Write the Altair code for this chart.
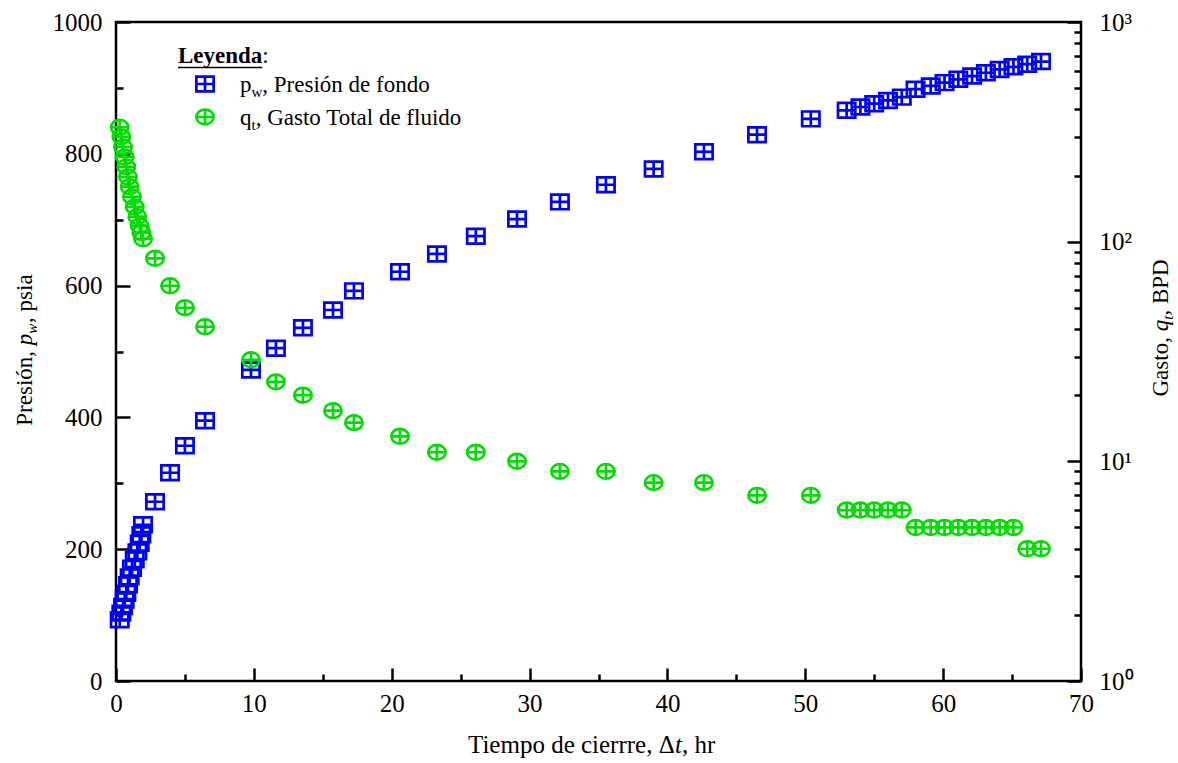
import altair as alt
import pandas as pd

# ---------------- data ----------------
t_hr = [0.27, 0.39, 0.51, 0.63, 0.75, 0.87, 0.99, 1.16, 1.36, 1.55, 1.72, 1.84, 1.96,
        2.83, 3.92, 5.0, 6.46, 9.79, 11.6, 13.56, 15.74, 17.26, 20.6, 23.28, 26.1,
        29.09, 32.2, 35.54, 39.0, 42.65, 46.5, 50.4,
        53.0, 54.0, 55.0, 56.0, 57.0, 58.0, 59.1, 60.1, 61.1, 62.1, 63.1, 64.1,
        65.1, 66.1, 67.1]
p_psia = [93, 103, 113, 123, 133, 146, 158, 171, 184, 196, 209, 222, 237,
          272, 316, 357, 395, 472, 505, 536, 563, 592, 621, 648, 675,
          701, 727, 753, 777, 803, 829, 853,
          866, 871, 876, 881, 886, 898, 903, 908, 913, 918, 923, 928,
          932, 936, 940]
q_bpd = [332, 300, 270, 243, 219, 197, 178, 160, 144, 130, 118, 110, 103,
         84, 63, 50, 41, 29, 23, 20, 17, 15, 13, 11, 11,
         10, 9, 9, 8, 8, 7, 7,
         6, 6, 6, 6, 6, 5, 5, 5, 5, 5, 5, 5,
         5, 4, 4]

x_major = [0, 10, 20, 30, 40, 50, 60, 70]
x_minor = [5, 15, 25, 35, 45, 55, 65]
y_major = [0, 200, 400, 600, 800, 1000]
y_minor = [100, 300, 500, 700, 900]
r_major = [1, 10, 100, 1000]
r_minor = [2, 3, 4, 5, 6, 7, 8, 9, 20, 30, 40, 50, 60, 70, 80, 90,
           200, 300, 400, 500, 600, 700, 800, 900]

df = pd.DataFrame({"t": t_hr, "p": p_psia, "q": q_bpd})
one = pd.DataFrame({"k": [0]})

FONT = "Liberation Serif"
BLUE = "#0000ff"
GREEN = "#00dd00"
SQ = "M-1,-0.85H1V0.85H-1Z M0,-0.85V0.85 M-1,0H1"
CI = "M-1,0A1,0.85,0,1,1,1,0A1,0.85,0,1,1,-1,0Z M0,-0.85V0.85 M-1,0H1"

xs = alt.Scale(domain=[0, 70], nice=False, zero=False)
ys = alt.Scale(domain=[0, 1000], nice=False)
rs = alt.Scale(type="log", domain=[1, 1000], nice=False)

common = dict(grid=False, domain=False, title=None, tickColor="black", tickWidth=2.5,
              labelFont=FONT, labelFontSize=25, labelColor="black",
              labelFlush=False, labelOverlap=False)

ax_x_major = alt.Axis(orient="bottom", values=x_major, tickSize=13, offset=-13,
                      labelPadding=10, format="d", **common)
ax_x_minor = alt.Axis(orient="bottom", values=x_minor, tickSize=7, offset=-7,
                      labels=False, **common)
ax_y_major = alt.Axis(orient="left", values=y_major, tickSize=14, offset=-14,
                      labelPadding=14, format="d", **common)
ax_y_minor = alt.Axis(orient="left", values=y_minor, tickSize=7, offset=-7,
                      labels=False, **common)
ax_r_major = alt.Axis(orient="right", values=r_major, tickSize=14, offset=-14,
                      labelPadding=18,
                      labelExpr="'10' + ['⁰','¹','²','³'][round(log(datum.value)/LN10)]",
                      **common)
ax_r_minor = alt.Axis(orient="right", values=r_minor, tickSize=7, offset=-7,
                      labels=False, **common)

pres = alt.Chart(df).mark_point(shape=SQ, size=300, filled=False, strokeWidth=2.7,
                                color=BLUE, opacity=1).encode(
    x=alt.X("t:Q", scale=xs, axis=ax_x_major),
    y=alt.Y("p:Q", scale=ys, axis=ax_y_major),
)
minor_lp = alt.Chart(df).mark_point(opacity=0).encode(
    x=alt.X("t:Q", scale=xs, axis=ax_x_minor),
    y=alt.Y("p:Q", scale=ys, axis=ax_y_minor),
)
rate = alt.Chart(df).mark_point(shape=CI, size=300, filled=False, strokeWidth=2.7,
                                color=GREEN, opacity=1).encode(
    x=alt.X("t:Q", scale=xs, axis=None),
    y=alt.Y("q:Q", scale=rs, axis=ax_r_major),
)
minor_r = alt.Chart(df).mark_point(opacity=0).encode(
    x=alt.X("t:Q", scale=xs, axis=None),
    y=alt.Y("q:Q", scale=rs, axis=ax_r_minor),
)


def txt(s, x, y, size, angle=0, style="normal", weight="normal"):
    return alt.Chart(one).mark_text(
        text=s, font=FONT, fontSize=size, fontStyle=style, fontWeight=weight,
        angle=angle, align="left", baseline="alphabetic", color="black",
    ).encode(x=alt.value(x), y=alt.value(y))


texts = [
    # x-axis title
    txt("Tiempo de cierrre, Δ", 352.0, 731, 25),
    txt("t", 559.0, 731, 25, style="italic"),
    txt(", hr", 566.0, 731, 25),
    # left title (rotated)
    txt("Presión, ", -84, 403.7, 23, angle=270),
    txt("p", -84, 323.2, 23, angle=270, style="italic"),
    txt("w", -79, 311.7, 15, angle=270, style="italic"),
    txt(", psia", -84, 300.9, 23, angle=270),
    # right title (rotated)
    txt("Gasto, ", 1052, 374.5, 23, angle=270),
    txt("q", 1052, 309.3, 23, angle=270, style="italic"),
    txt("t", 1057, 297.8, 15, angle=270, style="italic"),
    txt(", BPD", 1052, 293.6, 23, angle=270),
    # legend
    txt("Leyenda", 62, 41, 23, weight="bold"),
    txt(":", 146.3, 41, 23),
    txt("p", 124, 70, 23),
    txt("w", 135.5, 75, 15),
    txt(", Presión de fondo", 146.3, 70, 23),
    txt("q", 124, 103, 23),
    txt("t", 135.5, 108, 15),
    txt(", Gasto Total de fluido", 139.7, 103, 23),
]

underline = alt.Chart(one).mark_rule(color="black", strokeWidth=1.5).encode(
    x=alt.value(62), x2=alt.value(146.3), y=alt.value(45.5))
leg_sq = alt.Chart(one).mark_point(shape=SQ, size=300, filled=False, strokeWidth=2.7,
                                   color=BLUE, opacity=1).encode(
    x=alt.value(89), y=alt.value(62))
leg_ci = alt.Chart(one).mark_point(shape=CI, size=300, filled=False, strokeWidth=2.7,
                                   color=GREEN, opacity=1).encode(
    x=alt.value(89), y=alt.value(95))

chart = alt.layer(
    minor_lp, minor_r, pres, rate, underline, leg_sq, leg_ci, *texts
).resolve_scale(
    x="independent", y="independent"
).properties(
    width=965, height=659,
    padding={"left": 116, "top": 22, "right": 97, "bottom": 82},
    autosize=alt.AutoSizeParams(type="none"),
    background="white",
).configure_view(
    stroke="black", strokeWidth=2.5
).configure_axis(
    labelFont=FONT, labelFontSize=25, labelColor="black"
).configure_text(font=FONT)

chart.save("out.html", embed_options={"renderer": "svg", "actions": False})
